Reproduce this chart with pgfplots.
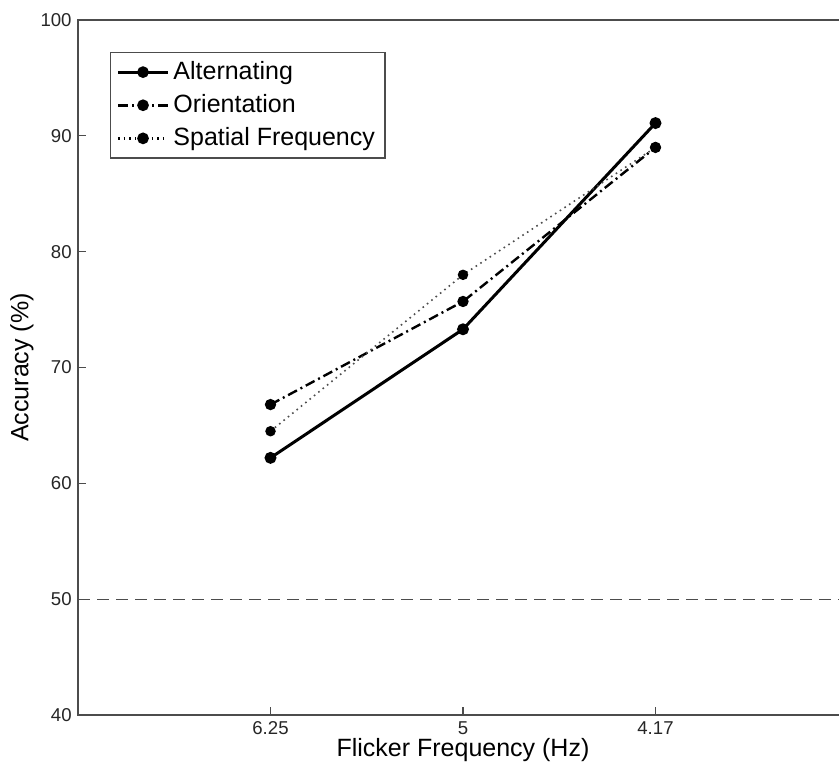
\documentclass[border=0pt]{standalone}
\usepackage{fontspec}
\setmainfont{Liberation Sans}
\usepackage{pgfplots}
\pgfplotsset{compat=1.18}
\begin{document}
\begin{tikzpicture}
\begin{axis}[
  at={(0,0)}, anchor=south west,
  scale only axis, width=385pt, height=347.5pt,
  xmin=0, xmax=4, ymin=40, ymax=100,
  xtick={1,2,3}, xticklabels={6.25,5,4.17},
  ytick={40,50,...,100},
  tick pos=left, tick align=inside, major tick length=4pt,
  /pgf/number format/assume math mode=true,
  ticklabel style={font=\fontsize{9.3}{10}\selectfont, text=black!85},
  yticklabel style={inner sep=0pt, xshift=-3pt},
  xticklabel style={inner sep=0pt, yshift=-3pt},
  axis line style={black!70, line width=0.6pt},
  every tick/.style={black!70, line width=0.6pt},
  xlabel={Flicker Frequency (Hz)}, ylabel={Accuracy (\%)},
  every axis x label/.style={at={(axis description cs:0.5,0)}, anchor=center, yshift=-17.5pt, font=\fontsize{12.5}{14}\selectfont},
  every axis y label/.style={at={(axis description cs:-0.0727,0.5)}, anchor=center, rotate=90, font=\fontsize{12.5}{14}\selectfont},
  legend style={at={(axis description cs:0.0416,0.954)}, anchor=north west, draw=black!70, line width=0.6pt, font=\fontsize{12.5}{14}\selectfont, row sep=2pt, inner ysep=2.5pt},
  legend cell align=left,
  legend image code/.code={\draw[mark repeat=2, mark phase=2, #1, line width=1.4pt, black] plot coordinates {(0pt,0pt) (12.5pt,0pt) (25pt,0pt)};},
]
\addplot[black!70, line width=0.5pt, dash pattern=on 6pt off 3.5pt, forget plot] coordinates {(0,50) (4,50)};
\addplot[black, line width=1.5pt, mark=*, mark size=2.2pt] coordinates {(1,62.2) (2,73.3) (3,91.1)};
\addlegendentry{Alternating}
\addplot[black, line width=1.2pt, dash pattern=on 5pt off 2pt on 1pt off 2pt, mark=*, mark size=2.2pt, mark options={solid}] coordinates {(1,66.8) (2,75.7) (3,89.0)};
\addlegendentry{Orientation}
\addplot[black!70, line width=0.8pt, dash pattern=on 0.8pt off 2pt, mark=*, mark size=2.2pt, mark options={solid, fill=black, draw=black}] coordinates {(1,64.5) (2,78.0) (3,89.0)};
\addlegendentry{Spatial Frequency}
\end{axis}
\pgfresetboundingbox
\useasboundingbox (-39pt,-25pt) rectangle (380.5pt,357.5pt);
\end{tikzpicture}
\end{document}
